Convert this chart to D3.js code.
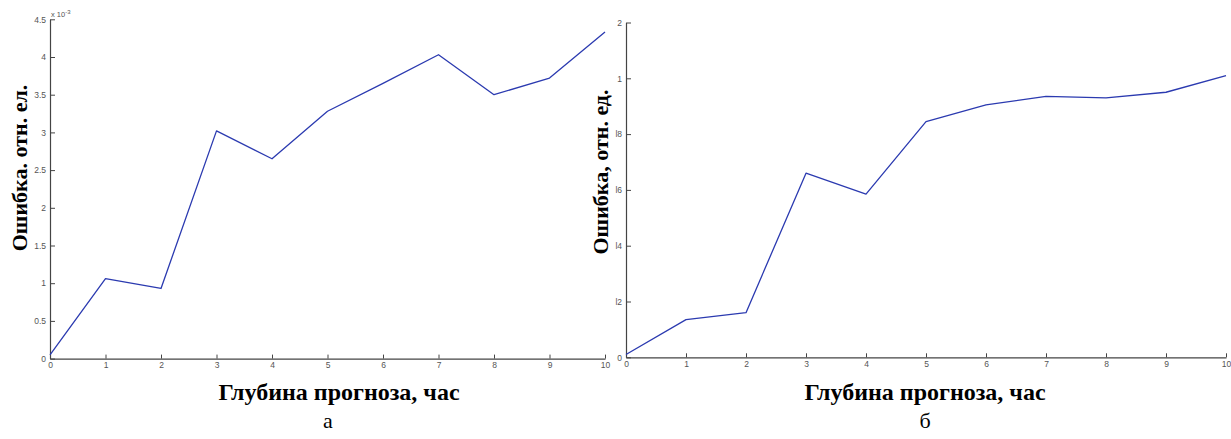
<!DOCTYPE html>
<html>
<head>
<meta charset="utf-8">
<script src="https://cdn.jsdelivr.net/npm/d3@7"></script>
<style>
  html, body { margin: 0; padding: 0; background: #fff; }
  svg { display: block; }
  .tick text { font-family: "Liberation Sans", Arial, sans-serif; font-size: 8.5px; fill: #555; }
  .domain, .tick line { stroke: #444; }
</style>
</head>
<body>
<svg id="chart" width="1231" height="439"></svg>
<script>
// ---- data ----
const hours = [0, 1, 2, 3, 4, 5, 6, 7, 8, 9, 10];
const errorA = [0.05, 1.06, 0.93, 3.02, 2.65, 3.28, 3.65, 4.03, 3.50, 3.72, 4.33]; // ×10^-3
const yTicksA = [0, 0.5, 1, 1.5, 2, 2.5, 3, 3.5, 4, 4.5];
const errorB = [0.01, 0.135, 0.16, 0.66, 0.585, 0.845, 0.905, 0.935, 0.93, 0.95, 1.01];
const yTicksB = [0, 0.2, 0.4, 0.6, 0.8, 1.0, 1.2];
const yTickLabelsB = ["0", "l2", "l4", "l6", "l8", "1", "2"];
const xLabel = "Глубина прогноза, час";
const yLabelA = "Ошибка. отн. ел.";
const yLabelB = "Ошибка, отн. ед.";
const panelA = "а";
const panelB = "б";

const svg = d3.select("#chart");
const lineColor = "#2b3ab0";
const serif = "'Liberation Serif', 'Times New Roman', serif";

function panel(cfg) {
  const g = svg.append("g");
  const x = d3.scaleLinear().domain([0, 10]).range([cfg.x0, cfg.x1]);
  const y = d3.scaleLinear().domain(cfg.yDomain).range([cfg.yBottom, cfg.yTop]);

  const xAxis = d3.axisBottom(x).tickValues(hours).tickSizeInner(-4).tickSizeOuter(0).tickPadding(5);
  const gx = g.append("g").attr("transform", `translate(0,${cfg.yBottom})`).call(xAxis);
  gx.selectAll(".tick text").attr("dy", "0.55em");

  const yAxis = d3.axisLeft(y).tickValues(cfg.yTicks).tickSizeInner(-5).tickSizeOuter(0).tickPadding(4)
    .tickFormat(cfg.yFormat);
  g.append("g").attr("transform", `translate(${cfg.x0},0)`).call(yAxis);

  g.selectAll(".domain").attr("stroke-width", 1.2);

  const line = d3.line().x((d, i) => x(hours[i])).y(d => y(d));
  g.append("path").datum(cfg.values)
    .attr("fill", "none").attr("stroke", lineColor).attr("stroke-width", 1.3)
    .attr("stroke-linejoin", "round").attr("d", line);

  g.append("text").attr("x", cfg.xTitleX).attr("y", 400)
    .attr("text-anchor", "middle")
    .style("font-family", serif)
    .style("font-weight", "bold").style("font-size", "24px")
    .text(xLabel);

  g.append("text").attr("x", cfg.panelX).attr("y", 428)
    .attr("text-anchor", "middle")
    .style("font-family", serif)
    .style("font-size", "22px")
    .text(cfg.panel);

  g.append("text")
    .attr("transform", `translate(${cfg.yTitleX},${cfg.yTitleY}) rotate(-90)`)
    .attr("text-anchor", "middle")
    .style("font-family", serif)
    .style("font-weight", "bold").style("font-size", "22px")
    .text(cfg.yLabel);
  return g;
}

const gA = panel({
  x0: 50, x1: 605, yBottom: 358.6, yTop: 19.3, yDomain: [0, 4.5],
  yTicks: yTicksA, yFormat: d => String(d),
  values: errorA, xTitleX: 339, panelX: 328, panel: panelA,
  yLabel: yLabelA, yTitleX: 27, yTitleY: 168
});
// multiplier label
gA.append("text").attr("x", 51).attr("y", 17)
  .style("font-family", "'Liberation Sans', Arial, sans-serif").style("font-size", "7.5px").style("fill", "#555")
  .text("x 10").append("tspan").attr("dy", -3).style("font-size", "6px").text("-3");

panel({
  x0: 626, x1: 1226, yBottom: 357.3, yTop: 22.5, yDomain: [0, 1.2],
  yTicks: yTicksB, yFormat: (d, i) => yTickLabelsB[i],
  values: errorB, xTitleX: 925, panelX: 925, panel: panelB,
  yLabel: yLabelB, yTitleX: 608, yTitleY: 172
});
</script>
</body>
</html>
